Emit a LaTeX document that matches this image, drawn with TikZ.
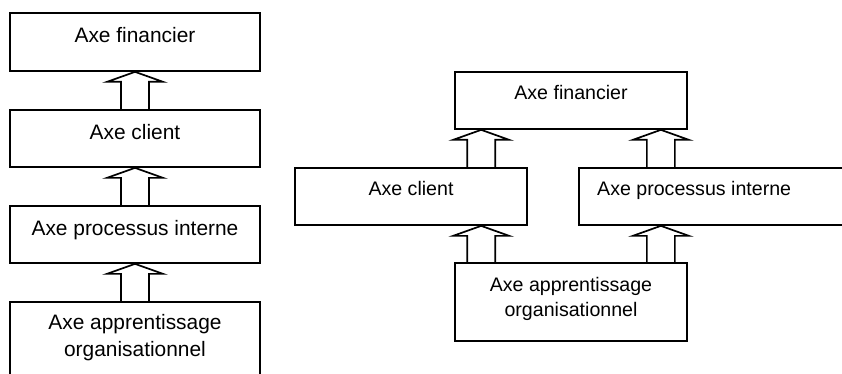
\documentclass[tikz,border=0pt]{standalone}
\usepackage{fontspec}
\setmainfont{Liberation Sans}
\usetikzlibrary{calc}
\newcommand\uparrowbox[3]{%
  \draw[fatarrow] let \p1=(#1), \p2=(#2.south), \p3=(#3.north) in
    (\x1-14pt,\y3) -- (\x1-14pt,\y2-10pt) -- (\x1-28pt,\y2-10pt) -- (\x1,\y2)
    -- (\x1+28pt,\y2-10pt) -- (\x1+14pt,\y2-10pt) -- (\x1+14pt,\y3);}
\begin{document}
\begin{tikzpicture}[x=1pt,y=-1pt,
  box/.style={draw, line width=1.7pt, rectangle, inner sep=0pt},
  lblL/.style={font=\fontsize{20.9}{27}\selectfont, align=center, inner sep=0pt, text height=15pt, text depth=4pt},
  lblR/.style={font=\fontsize{19.6}{25}\selectfont, align=center, inner sep=0pt, text height=14pt, text depth=4pt},
  fatarrow/.style={draw, line width=1.7pt, line join=miter}]
\useasboundingbox (0,0) rectangle (842,374);
\clip (0,0) rectangle (842,374);

% left column
\node[box, minimum width=250pt, minimum height=58pt] (L1) at (135,42) {};
\node[box, minimum width=250pt, minimum height=57pt] (L2) at (135,138.5) {};
\node[box, minimum width=250pt, minimum height=57pt] (L3) at (135,234.5) {};
\node[box, minimum width=250pt, minimum height=84pt] (L4) at (135,344) {};
\node[lblL] (L1t) at ($(L1.north)+(0,25)$) {Axe financier};
\node[lblL] (L2t) at ($(L2.north)+(0,25)$) {Axe client};
\node[lblL] (L3t) at ($(L3.north)+(0,25)$) {Axe processus interne};
\node[lblL, text height=, text depth=] (L4t) at (135,338) {Axe apprentissage\\organisationnel};
\uparrowbox{L1.south}{L1}{L2}
\uparrowbox{L2.south}{L2}{L3}
\uparrowbox{L3.south}{L3}{L4}

% right diagram
\node[box, minimum width=232pt, minimum height=57pt] (RF) at (571,100.5) {};
\node[box, minimum width=232pt, minimum height=57pt] (RC) at (411,196.5) {};
\node[box, minimum width=272pt, minimum height=57pt] (RP) at (715,196.5) {};
\node[box, minimum width=232pt, minimum height=78pt] (RA) at (571,302) {};
\node[lblR] (RFt) at ($(RF.north)+(0,23.5)$) {Axe financier};
\node[lblR] (RCt) at ($(RC.north)+(0,23)$) {Axe client};
\node[lblR] (RPt) at ($(RP.north west)+(116,23)$) {Axe processus interne};
\node[lblR, text height=, text depth=] (RAt) at (571,299) {Axe apprentissage\\organisationnel};
\coordinate (xa) at ($(RF.south west)+(27,0)$);
\coordinate (xb) at ($(RF.south east)+(-27,0)$);
\uparrowbox{xa}{RF}{RC}
\uparrowbox{xb}{RF}{RP}
\uparrowbox{xa}{RC}{RA}
\uparrowbox{xb}{RP}{RA}
\end{tikzpicture}
\end{document}
